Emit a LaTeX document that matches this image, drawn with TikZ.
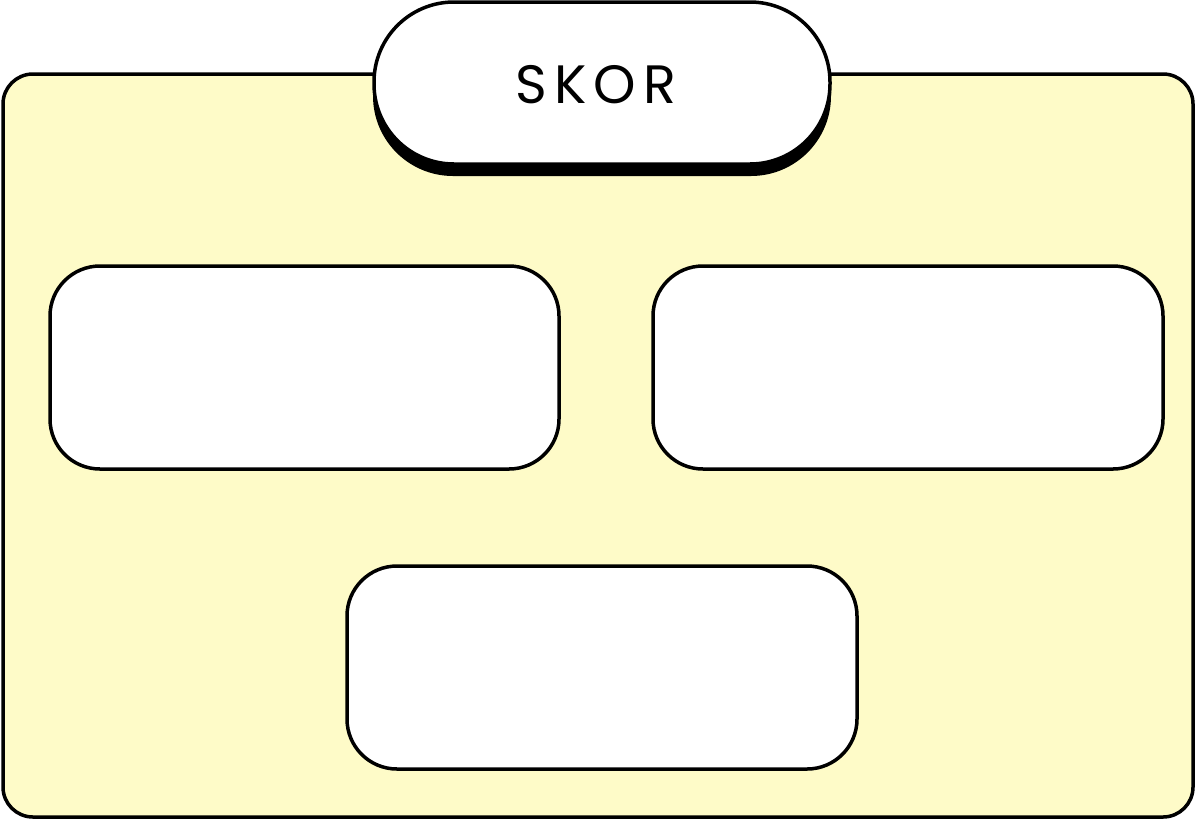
\documentclass[tikz,border=0pt]{standalone}
\usepackage{fontspec}
\newfontfamily\popfont[LetterSpace=13]{Poppins}
\definecolor{bgyellow}{HTML}{FEFBC8}
\begin{document}
\begin{tikzpicture}[x=1pt,y=-1pt,
  panel/.style={draw=black, line width=3.5pt, fill=bgyellow, rounded corners=30pt},
  cardbox/.style={draw=black, line width=3.5pt, fill=white, rounded corners=50pt},
  pill/.style={draw=black, line width=3.5pt, fill=white, rounded corners=80pt}]
\useasboundingbox (0,0) rectangle (1196,820);
\draw[panel] (3,74) rectangle (1193,817);
\fill[black, rounded corners=80pt] (373,13) rectangle (831,176);
\draw[pill] (374,2) rectangle (830,164);
\node (title) at (596,85) {\popfont\fontsize{54}{64}\selectfont SKOR};
\draw[cardbox] (50,266) rectangle (559,469);
\draw[cardbox] (653,266) rectangle (1163,469);
\draw[cardbox] (347,566) rectangle (857,769);
\end{tikzpicture}
\end{document}
